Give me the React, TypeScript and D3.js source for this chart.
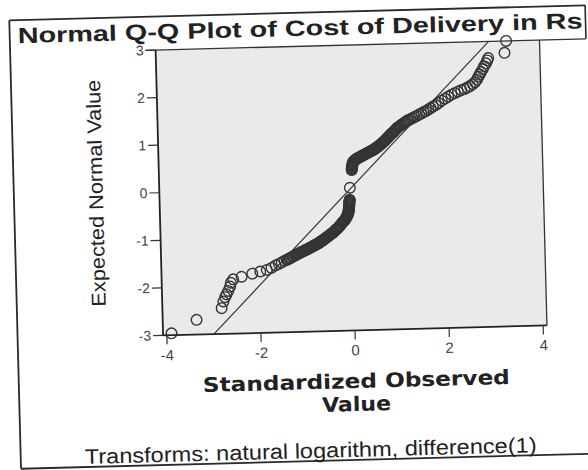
import React from 'react';
import * as d3 from 'd3';

// ---- text ----
const TITLE = 'Normal Q-Q Plot of Cost of Delivery in Rs';
const X_TITLE_1 = 'Standardized Observed';
const X_TITLE_2 = 'Value';
const Y_TITLE = 'Expected Normal Value';
const FOOTNOTE = 'Transforms: natural logarithm, difference(1)';

// ---- axes ----
const X_TICKS = [-4, -2, 0, 2, 4];
const Y_TICKS = [-3, -2, -1, 0, 1, 2, 3];
const X_DOMAIN = [-4.08, 4.08];
const Y_DOMAIN = [-3, 3];

// reference line y = x
const REF_LINE: [number, number][] = [[-3, -3], [3, 3]];

// ---- data: [standardized observed value, expected normal value] ----
const lowerTail: [number, number][] = [
  [-3.90, -2.96], [-3.36, -2.69], [-2.82, -2.46], [-2.78, -2.32], [-2.74, -2.23],
  [-2.71, -2.17], [-2.67, -2.10], [-2.63, -2.01], [-2.61, -1.93], [-2.56, -1.86],
  [-2.38, -1.81], [-2.15, -1.75], [-1.98, -1.71], [-1.84, -1.68], [-1.74, -1.64],
  [-1.65, -1.59], [-1.58, -1.56], [-1.52, -1.53], [-1.46, -1.50],
];
const lowerBand: [number, number][] = [
  [-1.41, -1.48], [-1.38, -1.47], [-1.35, -1.45], [-1.32, -1.44], [-1.29, -1.42],
  [-1.26, -1.41], [-1.23, -1.39], [-1.20, -1.38], [-1.17, -1.36], [-1.14, -1.35],
  [-1.11, -1.33], [-1.08, -1.32], [-1.05, -1.31], [-1.02, -1.29], [-0.99, -1.28],
  [-0.97, -1.27], [-0.95, -1.26], [-0.93, -1.25], [-0.91, -1.24], [-0.89, -1.23],
  [-0.87, -1.22], [-0.85, -1.21], [-0.83, -1.20], [-0.81, -1.19], [-0.79, -1.18],
  [-0.77, -1.17], [-0.75, -1.16], [-0.73, -1.15], [-0.71, -1.14], [-0.69, -1.12],
  [-0.67, -1.11], [-0.65, -1.10], [-0.63, -1.09], [-0.61, -1.07], [-0.59, -1.06],
  [-0.57, -1.04], [-0.55, -1.03], [-0.53, -1.02], [-0.51, -1.00], [-0.49, -0.99],
  [-0.47, -0.97], [-0.45, -0.96], [-0.43, -0.95], [-0.41, -0.93], [-0.39, -0.91],
  [-0.37, -0.89], [-0.35, -0.87], [-0.33, -0.86], [-0.31, -0.84], [-0.29, -0.82],
  [-0.27, -0.80], [-0.25, -0.78], [-0.23, -0.76], [-0.21, -0.73], [-0.19, -0.71],
  [-0.17, -0.69], [-0.15, -0.67], [-0.14, -0.65], [-0.12, -0.62], [-0.11, -0.60],
  [-0.10, -0.58], [-0.09, -0.56], [-0.08, -0.55], [-0.08, -0.53], [-0.07, -0.51],
  [-0.07, -0.49], [-0.07, -0.47], [-0.06, -0.45], [-0.06, -0.43], [-0.06, -0.41],
  [-0.06, -0.39], [-0.05, -0.37], [-0.05, -0.35], [-0.05, -0.33], [-0.05, -0.31],
  [-0.05, -0.29], [-0.04, -0.27], [-0.04, -0.25],
];
const centerTies: [number, number][] = [[-0.03, 0.0]];
const upperBand: [number, number][] = [
  [0.02, 0.37], [0.02, 0.39], [0.02, 0.41], [0.03, 0.43], [0.03, 0.45],
  [0.03, 0.47], [0.04, 0.49], [0.04, 0.51], [0.05, 0.53], [0.06, 0.55],
  [0.08, 0.57], [0.10, 0.58], [0.12, 0.60], [0.14, 0.61], [0.16, 0.62],
  [0.18, 0.63], [0.20, 0.64], [0.22, 0.65], [0.24, 0.66], [0.26, 0.67],
  [0.28, 0.68], [0.30, 0.69], [0.32, 0.70], [0.34, 0.71], [0.36, 0.72],
  [0.38, 0.73], [0.40, 0.74], [0.42, 0.75], [0.44, 0.76], [0.46, 0.77],
  [0.48, 0.78], [0.50, 0.79], [0.52, 0.80], [0.54, 0.82], [0.56, 0.83],
  [0.58, 0.84], [0.60, 0.86], [0.62, 0.87], [0.64, 0.89], [0.66, 0.90],
  [0.68, 0.92], [0.70, 0.94], [0.72, 0.95], [0.74, 0.97], [0.76, 0.99],
  [0.78, 1.01], [0.80, 1.03], [0.82, 1.05], [0.84, 1.07], [0.86, 1.09],
  [0.88, 1.11], [0.90, 1.12], [0.92, 1.14], [0.94, 1.16], [0.96, 1.18],
  [0.98, 1.20], [1.00, 1.22], [1.02, 1.24], [1.05, 1.26], [1.08, 1.28],
  [1.11, 1.30], [1.14, 1.32], [1.17, 1.34], [1.20, 1.36], [1.23, 1.38],
  [1.26, 1.39], [1.30, 1.41], [1.34, 1.43], [1.38, 1.45], [1.43, 1.47],
  [1.48, 1.50], [1.53, 1.52], [1.58, 1.55], [1.63, 1.57], [1.68, 1.60],
  [1.73, 1.63], [1.78, 1.66], [1.84, 1.69], [1.90, 1.73],
];
const upperTail: [number, number][] = [
  [1.97, 1.78], [2.04, 1.82], [2.11, 1.86], [2.18, 1.90], [2.25, 1.93],
  [2.32, 1.96], [2.39, 1.99], [2.46, 2.01], [2.52, 2.04], [2.58, 2.07],
  [2.64, 2.11], [2.69, 2.15], [2.73, 2.20], [2.76, 2.26], [2.79, 2.31],
  [2.82, 2.36], [2.86, 2.42], [2.89, 2.48], [2.93, 2.54], [2.96, 2.60],
  [2.98, 2.65], [3.33, 2.75], [3.37, 3.00],
];

const W = 588;
const H = 470;
const SANS = 'Liberation Sans, Arial, sans-serif';
const WIDE = 'DejaVu Sans, Verdana, sans-serif';

export default function App() {
  const x = d3.scaleLinear().domain(X_DOMAIN).range([160.5, 544.5]);
  const y = d3.scaleLinear().domain(Y_DOMAIN).range([332, 46.5]);
  const [x0, x1] = x.range();
  const [yb, yt] = y.range();

  const points = [...lowerTail, ...lowerBand, ...centerTies, ...upperBand, ...upperTail];
  const refLine = d3.line<[number, number]>()
    .x((d) => x(d[0]))
    .y((d) => y(d[1]))(REF_LINE);

  return (
    <svg
      width={W}
      height={H}
      style={{ position: 'absolute', left: 0, top: 0, background: '#ffffff' }}
    >
      <rect x={0} y={0} width={W} height={H} fill="#ffffff" />
      <g transform="rotate(-1.5 294 235)">
        {/* outer frame */}
        <line x1={15} y1={13} x2={15} y2={461.5} stroke="#2a2a2a" strokeWidth={1.8} />
        <line x1={15} y1={13} x2={591} y2={13} stroke="#2a2a2a" strokeWidth={1.8} />
        <line x1={591} y1={13} x2={591} y2={yt} stroke="#2a2a2a" strokeWidth={1.6} />
        <line x1={15} y1={461.5} x2={610} y2={461.5} stroke="#2a2a2a" strokeWidth={1.8} />

        {/* title */}
        <text
          x={23}
          y={36}
          fontFamily={SANS}
          fontWeight="bold"
          fontSize={22}
          fill="#222"
          textLength={565}
          lengthAdjust="spacingAndGlyphs"
        >
          {TITLE}
        </text>

        {/* plot background */}
        <rect x={x0} y={yt} width={x1 - x0} height={yb - yt} fill="#eaeaea" />
        <line x1={x0 - 10} y1={yt} x2={591} y2={yt} stroke="#333" strokeWidth={1.3} />
        <line x1={x1} y1={yt} x2={x1} y2={yb} stroke="#333" strokeWidth={1.3} />

        {/* reference line */}
        <path d={refLine || ''} fill="none" stroke="#333" strokeWidth={1.2} />

        {/* points */}
        {points.map((d, i) => (
          <circle
            key={i}
            cx={x(d[0])}
            cy={y(d[1])}
            r={5.3}
            fill="none"
            stroke="#353535"
            strokeWidth={1.4}
          />
        ))}

        {/* axes */}
        <line x1={x0} y1={yt} x2={x0} y2={yb} stroke="#222" strokeWidth={1.8} />
        <line x1={x0} y1={yb} x2={x1} y2={yb} stroke="#222" strokeWidth={1.8} />

        {Y_TICKS.map((t) => (
          <g key={'y' + t}>
            <line x1={x0 - 10} y1={y(t)} x2={x0} y2={y(t)} stroke="#333" strokeWidth={1.2} />
            <text
              x={x0 - 12}
              y={y(t)}
              dy="0.35em"
              textAnchor="end"
              fontFamily={SANS}
              fontSize={14}
              fill="#444"
            >
              {String(t)}
            </text>
          </g>
        ))}
        {X_TICKS.map((t) => (
          <g key={'x' + t}>
            <line x1={x(t)} y1={yb} x2={x(t)} y2={yb + 9} stroke="#333" strokeWidth={1.2} />
            <text
              x={x(t)}
              y={yb + 25}
              textAnchor="middle"
              fontFamily={SANS}
              fontSize={15}
              fill="#444"
            >
              {String(t)}
            </text>
          </g>
        ))}

        {/* y title */}
        <text
          transform="translate(104,188) rotate(-90)"
          textAnchor="middle"
          fontFamily={SANS}
          fontSize={20}
          fill="#222"
          textLength={227}
          lengthAdjust="spacingAndGlyphs"
        >
          {Y_TITLE}
        </text>

        {/* x title */}
        <text
          x={352.5}
          y={389.6}
          textAnchor="middle"
          fontFamily={WIDE}
          fontWeight="bold"
          fontSize={20}
          fill="#222"
          textLength={307}
          lengthAdjust="spacingAndGlyphs"
        >
          {X_TITLE_1}
        </text>
        <text
          x={352}
          y={412.6}
          textAnchor="middle"
          fontFamily={WIDE}
          fontWeight="bold"
          fontSize={20}
          fill="#222"
          textLength={69}
          lengthAdjust="spacingAndGlyphs"
        >
          {X_TITLE_2}
        </text>

        {/* footnote */}
        <text
          x={79}
          y={458.4}
          fontFamily={SANS}
          fontSize={21}
          fill="#222"
          textLength={452}
          lengthAdjust="spacingAndGlyphs"
        >
          {FOOTNOTE}
        </text>
      </g>
    </svg>
  );
}
